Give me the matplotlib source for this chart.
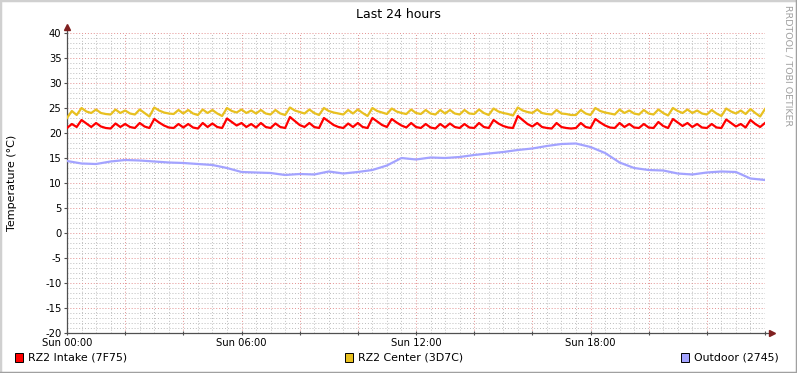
import numpy as np
import matplotlib
matplotlib.use("Agg")
import matplotlib.pyplot as plt
from matplotlib.ticker import MultipleLocator, FuncFormatter
from matplotlib.patches import Rectangle

# rrd style "Last 24 hours" temperature graph, 10 min steps for the rack sensors

W, H = 797, 373

# hours since Sun 00:00, 10 minute samples
t_rack = np.arange(145) / 6.0

intake = [
    21.0, 21.8, 21.2, 22.6, 21.9, 21.2, 22.0, 21.3, 21.0, 20.9, 21.9, 21.2,
    21.8, 21.2, 21.0, 22.0, 21.3, 21.0, 22.8, 22.1, 21.5, 21.1, 21.0, 21.8,
    21.1, 21.8, 21.1, 20.9, 22.0, 21.2, 21.9, 21.2, 21.0, 22.9, 22.2, 21.5,
    22.0, 21.2, 21.8, 21.1, 22.0, 21.2, 21.0, 21.9, 21.2, 21.0, 23.2, 22.4,
    21.6, 21.2, 22.0, 21.2, 21.0, 23.0, 22.3, 21.6, 21.2, 21.0, 21.9, 21.2,
    22.0, 21.2, 21.0, 23.0, 22.3, 21.6, 21.2, 22.8, 22.1, 21.5, 21.1, 22.0,
    21.2, 21.0, 21.8, 21.1, 20.9, 21.8, 21.1, 21.9, 21.2, 21.0, 21.8, 21.1,
    21.0, 22.0, 21.2, 21.0, 22.6, 21.9, 21.4, 21.1, 21.0, 23.4, 22.6, 21.8,
    21.3, 22.0, 21.2, 21.0, 20.9, 22.0, 21.2, 21.0, 20.9, 21.0, 22.0, 21.2,
    21.0, 22.8, 22.1, 21.5, 21.1, 21.0, 22.0, 21.2, 21.8, 21.1, 21.0, 21.8,
    21.1, 21.0, 22.2, 21.4, 21.0, 22.8, 22.1, 21.4, 22.0, 21.2, 21.8, 21.1,
    21.0, 21.8, 21.1, 21.0, 22.7, 22.0, 21.3, 21.8, 21.1, 22.6, 21.8, 21.2,
    22.0,
]

center = [
    23.0, 24.4, 23.6, 25.0, 24.3, 24.0, 24.7, 24.0, 23.8, 23.7, 24.7, 24.0,
    24.5, 23.9, 23.7, 24.7, 24.0, 23.3, 25.1, 24.5, 24.1, 23.9, 23.8, 24.6,
    23.9, 24.6, 23.9, 23.6, 24.7, 24.0, 24.6, 23.9, 23.4, 25.0, 24.4, 24.1,
    24.7, 24.0, 24.5, 23.9, 24.6, 23.9, 23.7, 24.6, 23.9, 23.6, 25.1, 24.5,
    24.2, 23.9, 24.7, 24.0, 23.6, 25.0, 24.4, 24.1, 23.9, 23.7, 24.6, 23.9,
    24.7, 24.0, 23.4, 25.0, 24.4, 24.1, 23.8, 24.9, 24.3, 24.0, 23.8, 24.7,
    24.0, 23.8, 24.6, 23.9, 23.7, 24.6, 23.9, 24.6, 23.9, 23.7, 24.6, 23.9,
    23.8, 24.7, 24.0, 23.6, 24.9, 24.3, 24.0, 23.8, 23.5, 25.1, 24.5, 24.2,
    24.0, 24.7, 24.0, 23.8, 23.7, 24.6, 23.9, 23.8, 23.6, 23.6, 24.6, 23.9,
    23.6, 25.0, 24.4, 24.1, 23.9, 23.7, 24.7, 24.0, 24.5, 23.9, 23.7, 24.6,
    23.9, 23.7, 24.7, 24.0, 23.5, 25.0, 24.4, 24.0, 24.7, 24.0, 24.5, 23.9,
    23.7, 24.6, 23.9, 23.4, 24.9, 24.3, 23.9, 24.5, 23.8, 24.8, 24.0, 23.3,
    24.8,
]

# outdoor sensor, half hour steps
t_out = np.arange(49) / 2.0
outdoor = [
    14.4, 13.9, 13.8, 14.3, 14.6, 14.5, 14.3, 14.1, 14.0, 13.8,
    13.6, 13.0, 12.2, 12.1, 12.0, 11.6, 11.8, 11.7, 12.3, 11.9,
    12.2, 12.6, 13.5, 15.0, 14.7, 15.1, 15.0, 15.2, 15.6, 15.9,
    16.2, 16.6, 16.9, 17.4, 17.8, 17.9, 17.2, 16.0, 14.1, 13.0,
    12.6, 12.5, 11.9, 11.7, 12.1, 12.3, 12.2, 10.9, 10.6,
]

labels = ["RZ2 Intake (7F75)", "RZ2 Center (3D7C)", "Outdoor (2745)"]
colors = ["#FF0000", "#E8C020", "#A3A3FF"]


def fx(x):
    return x / W


def fy(y):
    return 1 - y / H


fig = plt.figure(figsize=(W / 100, H / 100), dpi=100)
fig.patch.set_facecolor("white")

ax = fig.add_axes([fx(67), fy(333), (765 - 67) / W, 300 / H])
ax.set_facecolor("white")

ax.plot(t_rack, intake, color=colors[0], lw=1.6, zorder=5)
ax.plot(t_rack, center, color=colors[1], lw=1.6, zorder=5)
ax.plot(t_out, outdoor, color=colors[2], lw=1.6, zorder=5)

ax.set_xlim(0, 24)
ax.set_ylim(-20, 40)

ax.xaxis.set_major_locator(MultipleLocator(2))
ax.xaxis.set_minor_locator(MultipleLocator(0.5))
ax.yaxis.set_major_locator(MultipleLocator(5))
ax.yaxis.set_minor_locator(MultipleLocator(1))
ax.xaxis.set_major_formatter(FuncFormatter(
    lambda v, p: "Sun %02d:00" % int(round(v)) if int(round(v)) % 6 == 0 and v < 24 else ""))
ax.yaxis.set_major_formatter(FuncFormatter(lambda v, p: "%d" % v))

ax.grid(which="minor", color="#bdbdbd", lw=0.7, linestyle=(0, (1, 2)))
ax.grid(which="major", color="#e49090", lw=0.7, linestyle=(0, (1, 2)))
ax.set_axisbelow(True)

for s in ["top", "right"]:
    ax.spines[s].set_visible(False)
for s in ["left", "bottom"]:
    ax.spines[s].set_color("#505050")
    ax.spines[s].set_linewidth(0.9)

ax.tick_params(axis="both", which="minor", length=0)
ax.tick_params(axis="y", which="major", length=2.5, width=0.8, color="#505050",
               labelsize=7.2, pad=1.5, labelcolor="black")
ax.tick_params(axis="x", which="major", length=3, width=0.8, color="#505050",
               direction="inout", labelsize=7.2, pad=1.8, labelcolor="black")

# axis arrows
ax.plot([1.0, 1.01], [0, 0], color="#505050", lw=0.9, transform=ax.transAxes, clip_on=False)
ax.plot([0, 0], [1.0, 1.02], color="#505050", lw=0.9, transform=ax.transAxes, clip_on=False)
ax.plot([1.01], [0], marker=">", ms=4, color="#802020", transform=ax.transAxes, clip_on=False)
ax.plot([0], [1.02], marker="^", ms=4, color="#802020", transform=ax.transAxes, clip_on=False)

fig.text(fx(398), fy(14), "Last 24 hours", ha="center", va="center", fontsize=9)
fig.text(fx(12), fy(183), "Temperature (°C)", ha="center", va="center",
         rotation=90, fontsize=8)
fig.text(fx(788), fy(5), "RRDTOOL / TOBI OETIKER", ha="center", va="top",
         rotation=270, fontsize=6.8, color="#a0a0a0")

# legend boxes
leg_x = [15, 345, 681]
for lx, lab, c in zip(leg_x, labels, colors):
    fig.patches.append(Rectangle((fx(lx), fy(362)), 8 / W, 9 / H, transform=fig.transFigure,
                                 facecolor=c, edgecolor="black", lw=0.7))
    fig.text(fx(lx + 13), fy(358), lab, ha="left", va="center", fontsize=7.9)

# image frame, light top/left and darker bottom/right
fig.add_artist(plt.Line2D([0, 0, 1], [0, 1, 1], transform=fig.transFigure, color="#d0d0d0", lw=2.5))
fig.add_artist(plt.Line2D([0, 1, 1], [0, 0, 1], transform=fig.transFigure, color="#a0a0a0", lw=2.5))

fig.savefig("out.png", dpi=100, facecolor="white")
